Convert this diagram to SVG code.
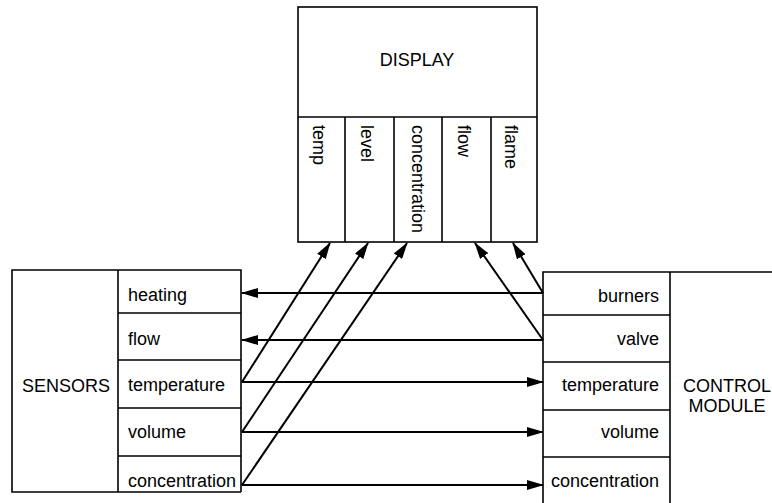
<svg xmlns="http://www.w3.org/2000/svg" width="772" height="503" viewBox="0 0 772 503">
<style>
  .box { fill: none; stroke: #000; stroke-width: 1.6; }
  .t { font-family: "Liberation Sans", Arial, sans-serif; font-size: 18px; fill: #000; }
  .c { stroke: #000; stroke-width: 2; fill: none; marker-end: url(#ah); }
</style>
<defs>
  <marker id="ah" viewBox="0 0 17 10" refX="16" refY="5" markerWidth="17" markerHeight="10" markerUnits="userSpaceOnUse" orient="auto">
    <path d="M0,0 L17,5 L0,10 z" fill="#000"/>
  </marker>
</defs>
<rect width="772" height="503" fill="#fff"/>

<g id="display">
  <rect class="box" x="298" y="7" width="239" height="235"/>
  <line class="box" x1="298" y1="117" x2="537" y2="117"/>
  <line class="box" x1="345" y1="117" x2="345" y2="242"/>
  <line class="box" x1="394" y1="117" x2="394" y2="242"/>
  <line class="box" x1="442" y1="117" x2="442" y2="242"/>
  <line class="box" x1="491" y1="117" x2="491" y2="242"/>
  <text class="t" x="417" y="66" text-anchor="middle">DISPLAY</text>
  <text class="t" transform="translate(319,125) rotate(90)" dominant-baseline="central">temp</text>
  <text class="t" transform="translate(367,125) rotate(90)" dominant-baseline="central">level</text>
  <text class="t" transform="translate(418,125) rotate(90)" dominant-baseline="central">concentration</text>
  <text class="t" transform="translate(464,125) rotate(90)" dominant-baseline="central">flow</text>
  <text class="t" transform="translate(511,125) rotate(90)" dominant-baseline="central">flame</text>
</g>

<g id="sensors">
  <path class="box" d="M241,492 L12,492 L12,270 L241,270 L241,492"/>
  <line class="box" x1="118" y1="270" x2="118" y2="492"/>
  <line class="box" x1="118" y1="313" x2="241" y2="313"/>
  <line class="box" x1="118" y1="360" x2="241" y2="360"/>
  <line class="box" x1="118" y1="408" x2="241" y2="408"/>
  <line class="box" x1="118" y1="456" x2="241" y2="456"/>
  <text class="t" x="66" y="392" text-anchor="middle">SENSORS</text>
  <text class="t" x="128" y="301">heating</text>
  <text class="t" x="128" y="345">flow</text>
  <text class="t" x="128" y="391">temperature</text>
  <text class="t" x="128" y="438">volume</text>
  <text class="t" x="128" y="487">concentration</text>
</g>

<g id="control">
  <path class="box" d="M772,272 L543,272 L543,503"/>
  <line class="box" x1="670" y1="272" x2="670" y2="503"/>
  <line class="box" x1="543" y1="315" x2="670" y2="315"/>
  <line class="box" x1="543" y1="362" x2="670" y2="362"/>
  <line class="box" x1="543" y1="410" x2="670" y2="410"/>
  <line class="box" x1="543" y1="457" x2="670" y2="457"/>
  <text class="t" x="727" y="392" text-anchor="middle">CONTROL</text>
  <text class="t" x="727" y="412" text-anchor="middle">MODULE</text>
  <text class="t" x="659" y="302" text-anchor="end">burners</text>
  <text class="t" x="659" y="345" text-anchor="end">valve</text>
  <text class="t" x="659" y="391" text-anchor="end">temperature</text>
  <text class="t" x="659" y="438" text-anchor="end">volume</text>
  <text class="t" x="659" y="487" text-anchor="end">concentration</text>
</g>

<g id="connectors">
  <line class="c" x1="543" y1="293" x2="242" y2="293"/>
  <line class="c" x1="543" y1="340" x2="242" y2="340"/>
  <line class="c" x1="242" y1="382" x2="543" y2="382"/>
  <line class="c" x1="242" y1="432" x2="543" y2="432"/>
  <line class="c" x1="242" y1="485" x2="543" y2="485"/>
  <line class="c" x1="242" y1="382" x2="330" y2="243"/>
  <line class="c" x1="242" y1="432" x2="368" y2="243"/>
  <line class="c" x1="242" y1="485" x2="407" y2="243"/>
  <line class="c" x1="543" y1="293" x2="513" y2="243"/>
  <line class="c" x1="543" y1="340" x2="475" y2="243"/>
</g>
</svg>
